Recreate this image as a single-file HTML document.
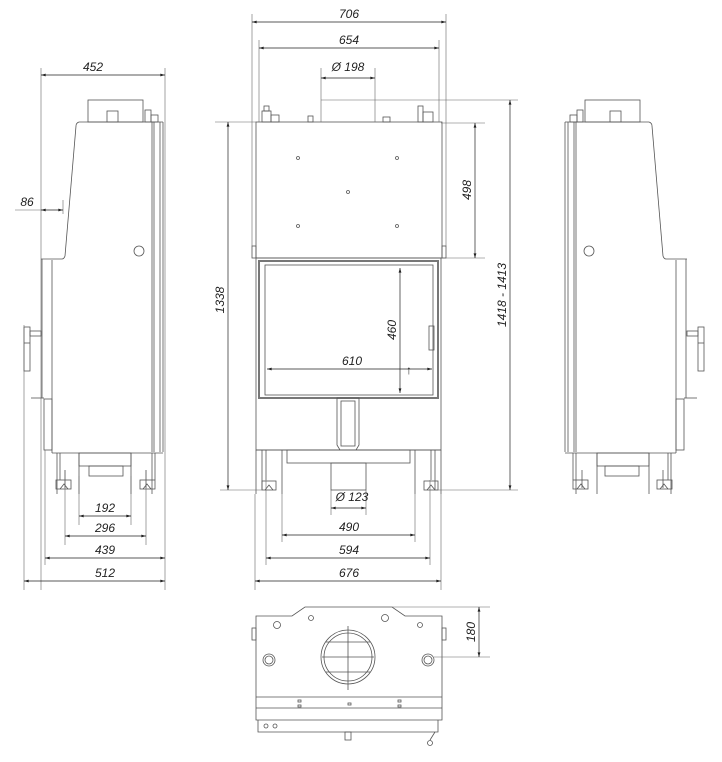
<!DOCTYPE html>
<html><head><meta charset="utf-8"><style>
html,body{margin:0;padding:0;background:#fff;}
svg{display:block;}
text{font-family:"Liberation Sans",sans-serif;font-size:12px;font-style:italic;fill:#222;}
</style></head><body>
<svg width="722" height="762" viewBox="0 0 722 762" xmlns="http://www.w3.org/2000/svg">
<defs>
<marker id="a" viewBox="0 0 10 6" refX="10" refY="3" markerWidth="8" markerHeight="4" orient="auto-start-reverse"><path d="M0,0L10,3L0,6z" fill="#222"/></marker>
</defs>
<g fill="none" stroke="#555" stroke-width="0.8">
<!-- LEFT SIDE VIEW -->
<g id="side">
<rect x="88" y="100" width="55" height="22"/>
<rect x="107" y="111" width="11" height="11"/>
<rect x="145" y="110" width="6" height="12"/>
<rect x="151" y="115" width="7" height="7"/>
<path d="M163,122 L79,122 Q76,123 76,126 L65,256 Q64,259 62,259 L41,259"/>
<line x1="152" y1="122" x2="152" y2="452"/>
<line x1="154" y1="122" x2="154" y2="452"/>
<line x1="160" y1="122" x2="160" y2="452"/>
<line x1="163" y1="122" x2="163" y2="452"/>
<line x1="52" y1="260" x2="52" y2="453"/>
<line x1="42" y1="259" x2="42" y2="398"/>
<rect x="44" y="399" width="8" height="51"/>
<line x1="31" y1="398" x2="44" y2="398"/>
<line x1="52" y1="453" x2="163" y2="453"/>
<rect x="24" y="327" width="6" height="44"/>
<line x1="24" y1="343" x2="30" y2="343"/>
<rect x="30" y="331" width="11" height="5"/>
<circle cx="139" cy="251" r="5"/>
<line x1="57" y1="453" x2="57" y2="494"/><line x1="60" y1="453" x2="60" y2="480"/>
<line x1="79" y1="453" x2="79" y2="494"/>
<line x1="131" y1="453" x2="131" y2="494"/>
<line x1="152" y1="453" x2="152" y2="494"/><line x1="155" y1="453" x2="155" y2="480"/>
<rect x="79" y="453" width="52" height="13"/>
<rect x="89" y="466" width="34" height="10"/>
<rect x="56" y="480" width="15" height="9"/><path d="M60,489 L64,484 L68,489"/>
<rect x="140" y="480" width="15" height="9"/><path d="M143,489 L147,484 L151,489"/>
<line x1="65" y1="470" x2="65" y2="488"/><line x1="146" y1="470" x2="146" y2="488"/>
</g>
<g transform="translate(728,0) scale(-1,1)">
<use href="#side"/>
</g>

<!-- FRONT VIEW -->
<rect x="262" y="111" width="9" height="11"/><rect x="264" y="106" width="5" height="5"/>
<rect x="271" y="115" width="8" height="7"/>
<rect x="308" y="116" width="5" height="6"/>
<rect x="383" y="117" width="7" height="5"/>
<rect x="418" y="106" width="5" height="16"/><rect x="423" y="112" width="10" height="10"/>
<rect x="256" y="122" width="186" height="136"/>
<rect x="252" y="246" width="4" height="12"/><rect x="442" y="246" width="4" height="12"/>
<rect x="256" y="258" width="185" height="192"/>
<rect x="259" y="261" width="179" height="137" stroke="#777" stroke-width="2"/>
<rect x="265" y="265" width="168" height="130"/>
<rect x="429" y="326" width="5" height="24"/>
<circle cx="298" cy="158" r="1.5"/><circle cx="397" cy="158" r="1.5"/>
<circle cx="348" cy="192" r="1.5"/>
<circle cx="298" cy="226" r="1.5"/><circle cx="397" cy="226" r="1.5"/>
<path d="M337,398 L359,398 L359,445 L356,450 L340,450 L337,445 Z"/>
<rect x="341" y="401" width="14" height="45"/>
<line x1="256" y1="450" x2="441" y2="450"/>
<line x1="256" y1="450" x2="256" y2="494"/><line x1="441" y1="450" x2="441" y2="494"/>
<line x1="282" y1="450" x2="282" y2="494"/><line x1="415" y1="450" x2="415" y2="494"/>
<line x1="262" y1="450" x2="262" y2="490"/><line x1="266" y1="450" x2="266" y2="480"/>
<line x1="435" y1="450" x2="435" y2="490"/><line x1="431" y1="450" x2="431" y2="480"/>
<rect x="287" y="450" width="123" height="13"/>
<rect x="331" y="463" width="35" height="27"/>
<rect x="262" y="481" width="14" height="9"/><path d="M265,490 L269,485 L273,490"/>
<rect x="424" y="481" width="14" height="9"/><path d="M427,490 L431,485 L435,490"/>

<!-- BOTTOM (TOP) VIEW -->
<path d="M256,616 L292,616 L305,607 L392,607 L405,616 L442,616 L442,720 L256,720 Z"/>
<rect x="252" y="628" width="4" height="12"/><rect x="442" y="628" width="4" height="12"/>
<circle cx="348" cy="657" r="27"/><circle cx="348" cy="657" r="24"/>
<line x1="326" y1="642" x2="370" y2="642"/><line x1="322" y1="657" x2="374" y2="657"/><line x1="326" y1="672" x2="370" y2="672"/>
<line x1="348" y1="626" x2="348" y2="690"/>
<circle cx="277" cy="625" r="3.5"/><circle cx="311" cy="618" r="2.5"/>
<circle cx="385" cy="618" r="3.5"/><circle cx="420" cy="625" r="2.5"/>
<circle cx="269" cy="660" r="6"/><circle cx="269" cy="660" r="4"/>
<circle cx="428" cy="660" r="6"/><circle cx="428" cy="660" r="4"/>
<line x1="256" y1="697" x2="442" y2="697"/><line x1="256" y1="708" x2="442" y2="708"/>
<rect x="298" y="700" width="3" height="2"/><rect x="298" y="705" width="3" height="2"/>
<rect x="348" y="703" width="3" height="2"/>
<rect x="398" y="700" width="3" height="2"/><rect x="398" y="705" width="3" height="2"/>
<path d="M258,720 L258,732 L438,732 L438,720"/>
<rect x="345" y="732" width="6" height="8"/>
<path d="M435,732 L430,740"/><circle cx="430" cy="743" r="2.5"/>
<circle cx="266" cy="726" r="2"/><circle cx="275" cy="726" r="2"/>
</g>

<!-- dimension / extension lines -->
<g stroke="#666" stroke-width="0.6" fill="none">
<line x1="41" y1="68" x2="41" y2="590"/>
<line x1="165" y1="68" x2="165" y2="590"/>
<line x1="24" y1="325" x2="24" y2="590"/>
<line x1="45" y1="450" x2="45" y2="565"/>
<line x1="65" y1="470" x2="65" y2="545"/>
<line x1="146" y1="470" x2="146" y2="545"/>
<line x1="79" y1="476" x2="79" y2="525"/>
<line x1="131" y1="476" x2="131" y2="525"/>
<line x1="15" y1="210" x2="41" y2="210"/>
<line x1="63" y1="200" x2="63" y2="214"/>

<line x1="252" y1="14" x2="252" y2="246"/><line x1="446" y1="14" x2="446" y2="246"/>
<line x1="259" y1="40" x2="259" y2="122"/><line x1="439" y1="40" x2="439" y2="122"/>
<line x1="321" y1="68" x2="321" y2="122"/><line x1="375" y1="68" x2="375" y2="122"/>
<line x1="321" y1="100" x2="518" y2="100"/>
<line x1="215" y1="122" x2="256" y2="122"/><line x1="441" y1="123" x2="485" y2="123"/>
<line x1="441" y1="258" x2="485" y2="258"/>
<line x1="220" y1="490" x2="262" y2="490"/><line x1="435" y1="490" x2="518" y2="490"/>
<line x1="331" y1="490" x2="331" y2="515"/><line x1="366" y1="490" x2="366" y2="515"/>
<line x1="255" y1="494" x2="255" y2="590"/><line x1="441" y1="494" x2="441" y2="590"/>
<line x1="266" y1="480" x2="266" y2="565"/><line x1="430" y1="480" x2="430" y2="565"/>
<line x1="282" y1="494" x2="282" y2="542"/><line x1="415" y1="494" x2="415" y2="542"/>
<line x1="392" y1="607" x2="490" y2="607"/><line x1="434" y1="657" x2="490" y2="657"/>
</g>
<g stroke="#222" stroke-width="0.7" fill="none" marker-start="url(#a)" marker-end="url(#a)">
<line x1="41" y1="75" x2="165" y2="75"/>
<line x1="41" y1="210" x2="63" y2="210"/>
<line x1="79" y1="516" x2="131" y2="516"/>
<line x1="65" y1="536" x2="146" y2="536"/>
<line x1="45" y1="558" x2="165" y2="558"/>
<line x1="24" y1="581" x2="165" y2="581"/>
<line x1="252" y1="22" x2="446" y2="22"/>
<line x1="259" y1="48" x2="439" y2="48"/>
<line x1="321" y1="78" x2="375" y2="78"/>
<line x1="228" y1="122" x2="228" y2="490"/>
<line x1="475" y1="123" x2="475" y2="258"/>
<line x1="510" y1="100" x2="510" y2="490"/>
<line x1="400" y1="268" x2="400" y2="393"/>
<line x1="267" y1="369" x2="432" y2="369"/>
<line x1="331" y1="508" x2="366" y2="508"/>
<line x1="282" y1="535" x2="415" y2="535"/>
<line x1="266" y1="558" x2="430" y2="558"/>
<line x1="255" y1="581" x2="441" y2="581"/>
<line x1="479" y1="607" x2="479" y2="657"/>
</g>
<text x="93" y="71" text-anchor="middle">452</text>
<text x="27" y="206" text-anchor="middle">86</text>
<text x="105" y="512" text-anchor="middle">192</text>
<text x="105" y="532" text-anchor="middle">296</text>
<text x="105" y="554" text-anchor="middle">439</text>
<text x="105" y="577" text-anchor="middle">512</text>
<text x="349" y="18" text-anchor="middle">706</text>
<text x="349" y="44" text-anchor="middle">654</text>
<text x="348" y="71" text-anchor="middle">Ø 198</text>
<text x="352" y="501" text-anchor="middle">Ø 123</text>
<text x="349" y="531" text-anchor="middle">490</text>
<text x="349" y="554" text-anchor="middle">594</text>
<text x="349" y="577" text-anchor="middle">676</text>
<text x="352" y="365" text-anchor="middle">610</text>
<text x="406" y="374" font-size="9">↑</text>
<text transform="translate(224,300) rotate(-90)" text-anchor="middle">1338</text>
<text transform="translate(396,330) rotate(-90)" text-anchor="middle">460</text>
<text transform="translate(471,190) rotate(-90)" text-anchor="middle">498</text>
<text transform="translate(506,295) rotate(-90)" text-anchor="middle">1418 - 1413</text>
<text transform="translate(475,632) rotate(-90)" text-anchor="middle">180</text>
</svg>
</body></html>
